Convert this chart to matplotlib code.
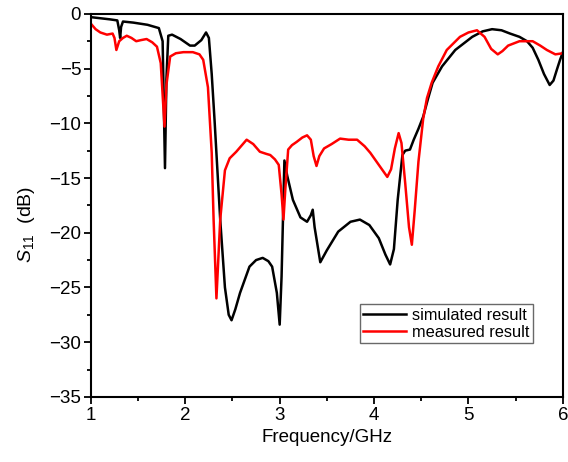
import numpy as np
import matplotlib.pyplot as plt

plt.rcParams['font.family'] = ['Liberation Sans', 'DejaVu Sans']
plt.rcParams['mathtext.fontset'] = 'custom'
plt.rcParams['mathtext.rm'] = 'Liberation Sans'
plt.rcParams['mathtext.it'] = 'Liberation Sans:italic'

# simulated S11 (GHz, dB)
sim_f = [1.00, 1.10, 1.20, 1.28, 1.30, 1.31, 1.32, 1.34, 1.45, 1.60, 1.72, 1.76, 1.785,
         1.80, 1.82, 1.86, 1.95, 2.05, 2.10, 2.17, 2.22, 2.25, 2.28, 2.31, 2.37, 2.42,
         2.46, 2.49, 2.53, 2.58, 2.68, 2.75, 2.82, 2.88, 2.92, 2.97, 3.00, 3.02, 3.05,
         3.08, 3.14, 3.22, 3.29, 3.33, 3.35, 3.37, 3.43, 3.50, 3.62, 3.75, 3.85, 3.95,
         4.05, 4.12, 4.17, 4.21, 4.25, 4.30, 4.33, 4.38, 4.42, 4.47, 4.52, 4.57, 4.62,
         4.72, 4.86, 5.04, 5.15, 5.25, 5.35, 5.44, 5.54, 5.62, 5.68, 5.74, 5.80, 5.86,
         5.90, 5.94, 5.97, 6.00]
sim_db = [-0.3, -0.4, -0.5, -0.6, -1.5, -2.2, -1.2, -0.7, -0.8, -1.0, -1.3, -2.5, -14.1,
          -6.0, -2.0, -1.9, -2.3, -2.9, -2.9, -2.4, -1.7, -2.2, -5.5, -9.7, -18.8, -25.0,
          -27.5, -28.0, -27.0, -25.5, -23.1, -22.5, -22.3, -22.6, -23.1, -25.5, -28.4, -24.0, -13.4,
          -14.8, -17.0, -18.6, -19.0, -18.4, -17.9, -19.5, -22.7, -21.6, -19.9, -19.0, -18.8, -19.3,
          -20.5, -22.0, -22.9, -21.5, -17.0, -12.9, -12.5, -12.4, -11.5, -10.5, -9.4, -7.8, -6.3,
          -4.8, -3.3, -2.1, -1.6, -1.4, -1.5, -1.8, -2.1, -2.5, -3.1, -4.2, -5.5, -6.5,
          -6.1, -5.0, -4.2, -3.5]

# measured S11 (GHz, dB)
meas_f = [1.00, 1.05, 1.10, 1.17, 1.23, 1.25, 1.27, 1.30, 1.34, 1.38, 1.43, 1.48, 1.53,
          1.59, 1.65, 1.70, 1.74, 1.78, 1.80, 1.84, 1.90, 1.98, 2.08, 2.15, 2.19, 2.24,
          2.28, 2.30, 2.33, 2.37, 2.42, 2.47, 2.54, 2.60, 2.65, 2.72, 2.79, 2.86, 2.90,
          2.95, 2.99, 3.02, 3.04, 3.06, 3.09, 3.13, 3.18, 3.24, 3.29, 3.33, 3.36, 3.39,
          3.42, 3.47, 3.55, 3.64, 3.73, 3.82, 3.90, 3.96, 4.05, 4.14, 4.18, 4.22, 4.26,
          4.29, 4.33, 4.37, 4.40, 4.43, 4.47, 4.52, 4.56, 4.61, 4.68, 4.77, 4.91, 5.00,
          5.09, 5.17, 5.24, 5.31, 5.36, 5.42, 5.54, 5.68, 5.76, 5.83, 5.92, 6.00]
meas_db = [-0.9, -1.4, -1.7, -1.9, -1.8, -2.2, -3.3, -2.5, -2.2, -2.0, -2.2, -2.5, -2.4,
           -2.3, -2.6, -3.0, -4.5, -10.3, -6.5, -3.9, -3.6, -3.5, -3.5, -3.7, -4.2, -6.7,
           -12.7, -18.8, -26.0, -18.8, -14.3, -13.2, -12.6, -12.0, -11.5, -11.9, -12.6, -12.8, -12.9,
           -13.3, -13.8, -16.5, -18.8, -16.0, -12.4, -12.0, -11.7, -11.3, -11.1, -11.5, -13.0, -13.9,
           -13.0, -12.3, -11.9, -11.4, -11.5, -11.5, -12.1, -12.7, -13.8, -14.9, -14.2, -12.3, -10.9,
           -11.8, -15.5, -19.5, -21.1, -18.0, -13.5, -9.6, -7.7, -6.3, -4.8, -3.3, -2.1, -1.7,
           -1.5, -2.1, -3.2, -3.7, -3.4, -2.9, -2.5, -2.5, -2.9, -3.3, -3.7, -3.6]

fig = plt.figure(figsize=(5.68, 4.62), dpi=100)
ax = fig.add_axes([0.160, 0.141, 0.831, 0.829])

ax.plot(sim_f, sim_db, color='black', lw=1.8, label='simulated result')
ax.plot(meas_f, meas_db, color='red', lw=1.8, label='measured result')

ax.set_xlim(1, 6)
ax.set_ylim(-35, 0)
ax.set_xticks(np.arange(1, 7, 1))
ax.set_xticks(np.arange(1.5, 6, 1), minor=True)
ax.set_yticks(np.arange(-35, 1, 5))
ax.set_yticks(np.arange(-32.5, 0, 5), minor=True)
ax.tick_params(which='major', direction='out', length=5, width=1.3, labelsize=13.5, pad=2)
ax.tick_params(which='minor', direction='out', length=3, width=1.3)
for s in ax.spines.values():
    s.set_linewidth(1.5)

ax.set_xlabel('Frequency/GHz', fontsize=13.5, labelpad=4)
ax.set_ylabel(r'$\mathit{S}_{\mathrm{11}}$  (dB)', fontsize=14)
ax.yaxis.set_label_coords(-0.115, 0.45)

leg = ax.legend(loc='lower right', bbox_to_anchor=(0.937, 0.14), fontsize=11.8,
                frameon=True, fancybox=False, edgecolor='#444444', handlelength=2.6,
                borderpad=0.2, labelspacing=0.15, handletextpad=0.4, borderaxespad=0)
leg.get_frame().set_linewidth(1.0)

fig.savefig('out.png', dpi=100)
